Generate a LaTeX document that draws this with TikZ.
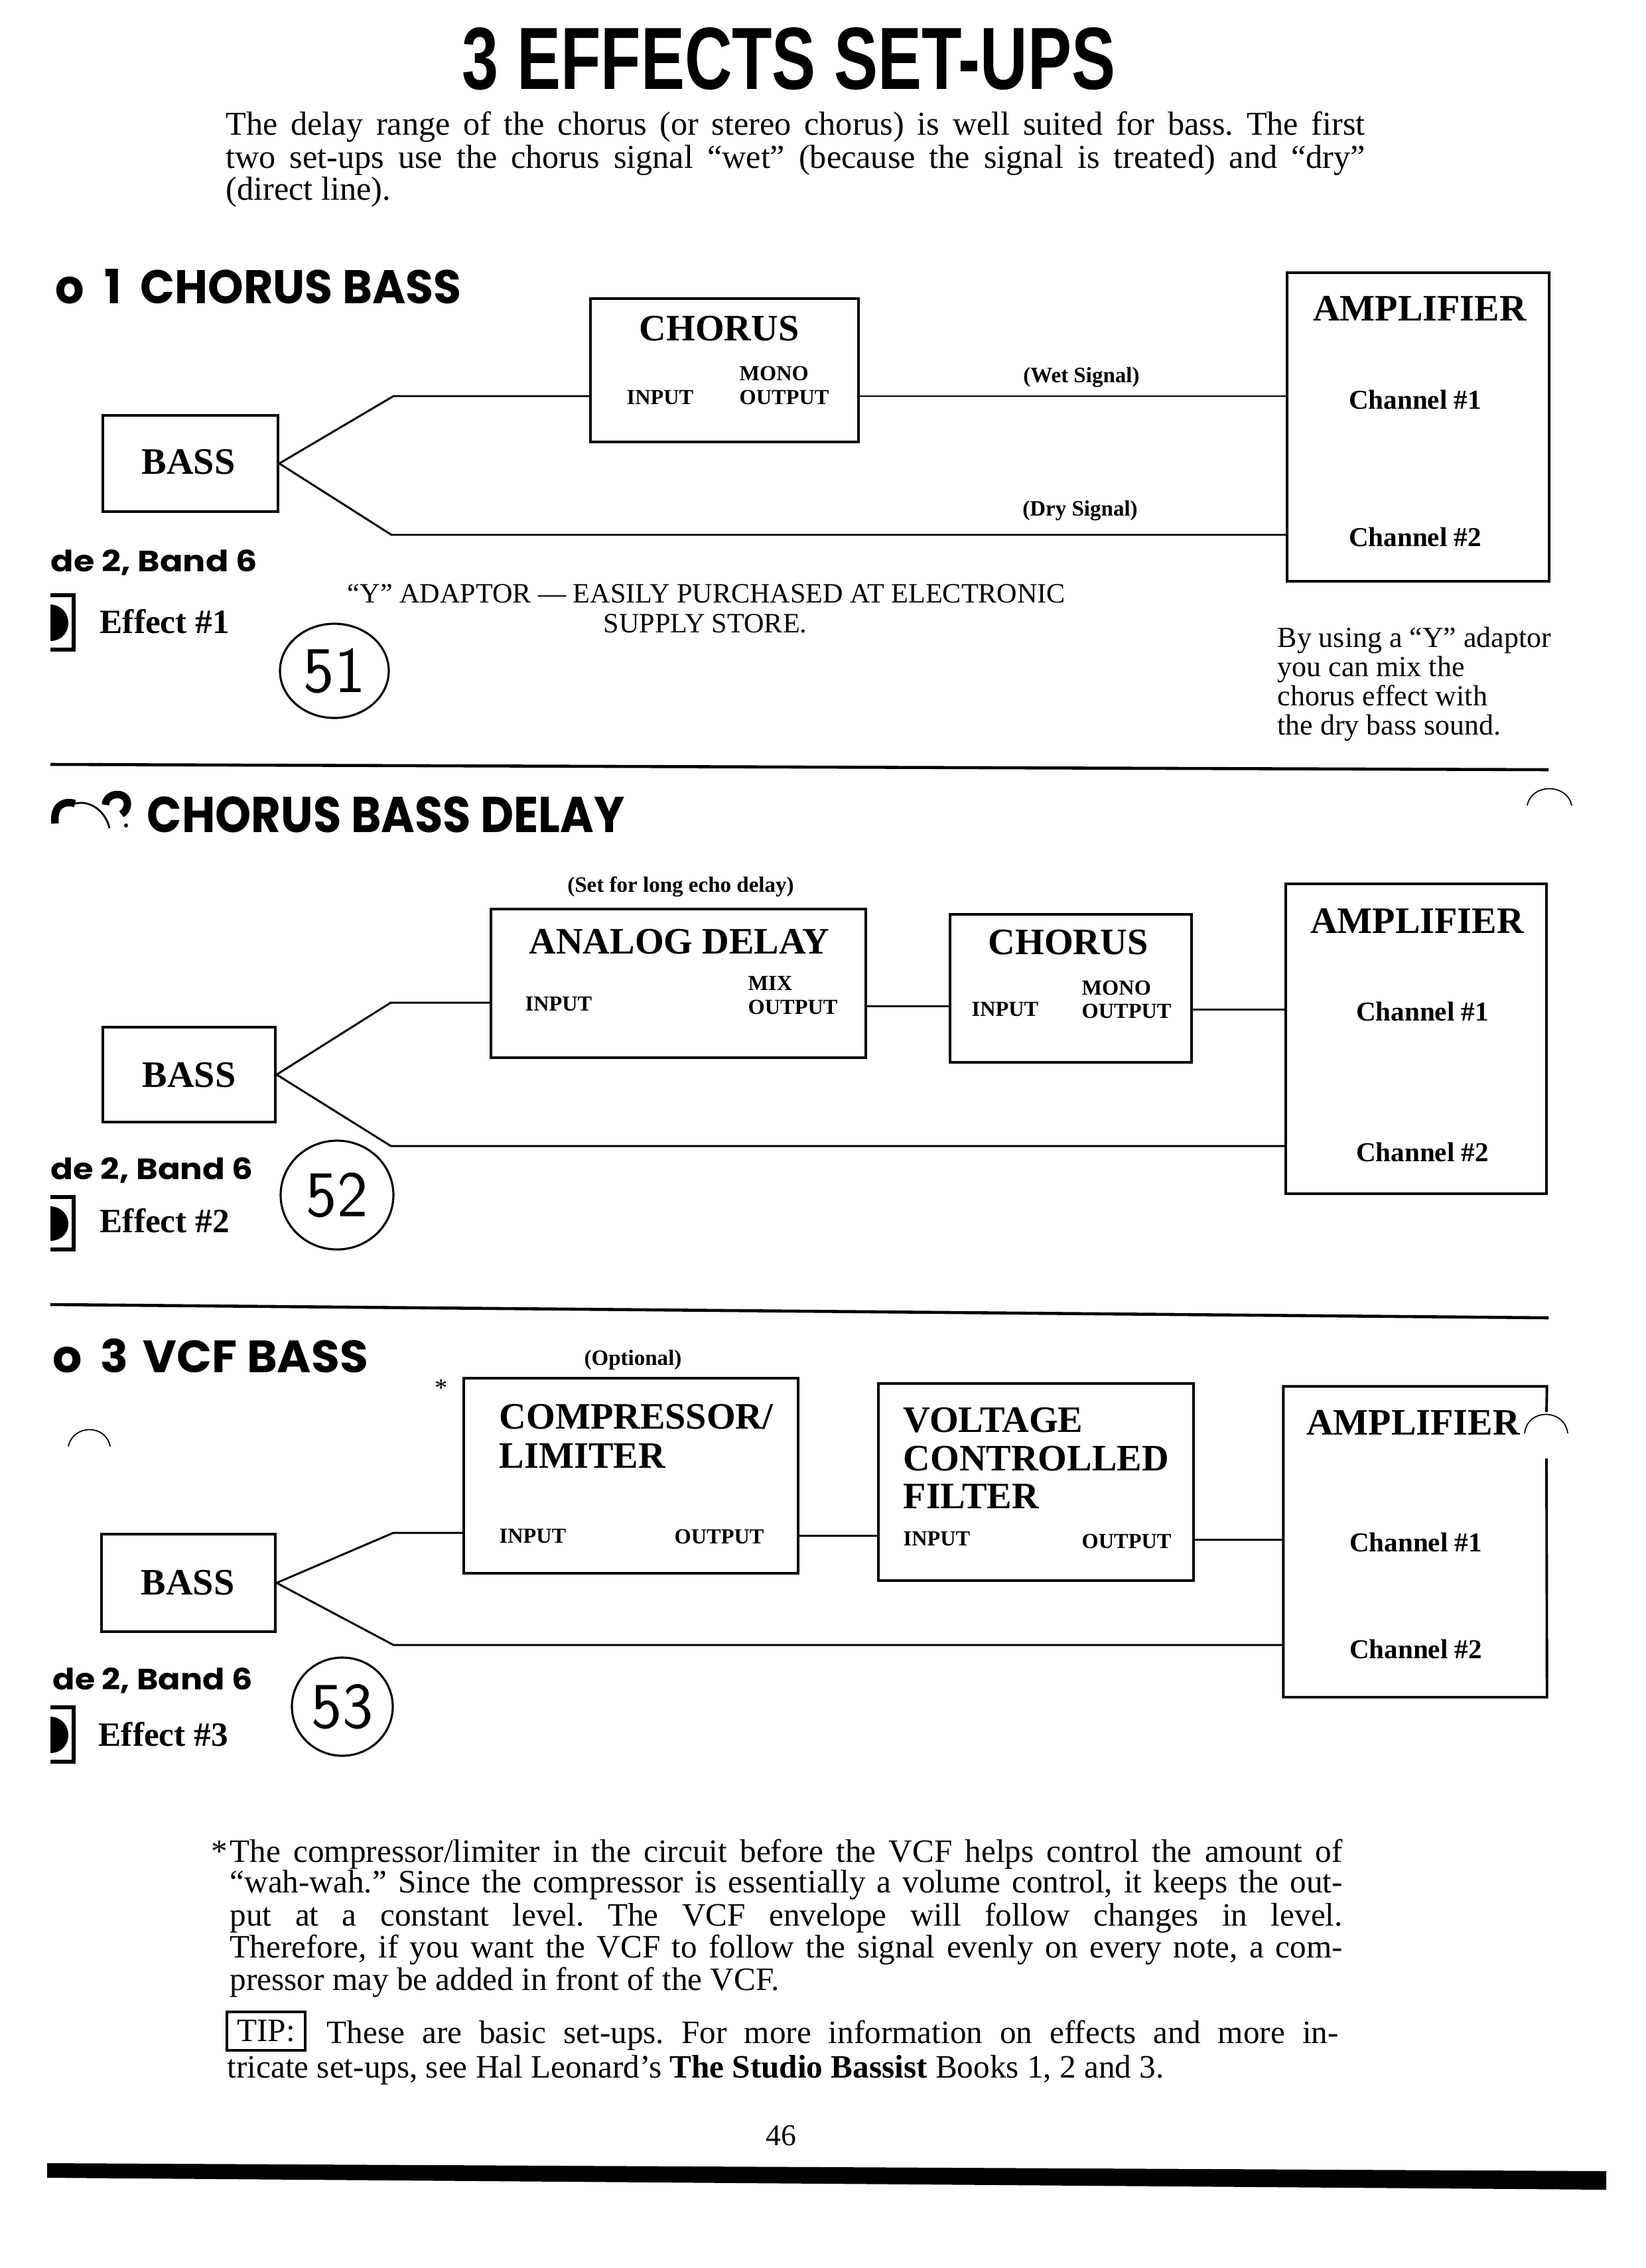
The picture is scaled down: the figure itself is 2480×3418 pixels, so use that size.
\documentclass[tikz,border=0pt]{standalone}
\usepackage{graphicx}
\usepackage{fontspec}
\setmainfont{Liberation Serif}
\newfontfamily\headfont{Poppins}
\newfontfamily\titlefont{Liberation Sans}
\usetikzlibrary{fit,shapes.geometric}
\tikzset{
  box/.style={draw, line width=1.1pt, inner sep=0pt},
  boxline/.style={line width=1.1pt},
  wire/.style={line width=0.85pt},
  btitle/.style={font=\fontsize{16}{19}\selectfont\bfseries, inner sep=0pt, anchor=base},
  btitlel/.style={font=\fontsize{16}{19}\selectfont\bfseries, inner sep=0pt, anchor=base west},
  port/.style={font=\fontsize{9.2}{11}\selectfont\bfseries, inner sep=0pt, anchor=base west},
  chan/.style={font=\fontsize{11.7}{14}\selectfont\bfseries, inner sep=0pt, anchor=base},
  sig/.style={font=\fontsize{9.4}{11}\selectfont\bfseries, inner sep=0pt},
  body/.style={font=\fontsize{14.3}{16}\selectfont, inner sep=0pt, anchor=base west},
  foot/.style={font=\fontsize{14}{16}\selectfont, inner sep=0pt, anchor=base west},
  note/.style={font=\fontsize{12.5}{15}\selectfont, inner sep=0pt, anchor=base west},
  caps/.style={font=\fontsize{12}{14}\selectfont, inner sep=0pt, anchor=base},
  effect/.style={font=\fontsize{14.6}{17}\selectfont\bfseries, inner sep=0pt, anchor=base west},
  head/.style={inner sep=0pt, anchor=base west},
  hand/.style={draw, ellipse, line width=0.9pt, inner sep=0pt, font=\sffamily\fontsize{28}{30}\selectfont},
  thinarc/.style={line width=0.5pt},
}
\newcommand\bracketicon[2]{%
  \fill (76,{#1+14}) .. controls (112,{#1+16}) and (112,{#2-14}) .. (76,{#2-13}) -- cycle;
  \draw[line width=1.7pt] (76,#1) -- (111,#1) -- (111,#2) -- (76,#2);}
\begin{document}
\frenchspacing
\begin{tikzpicture}[x=0.1mm, y=-0.1mm]
\useasboundingbox (0,0) rectangle (2480,3418);

% ---------- title and intro ----------
\node[head] (title) at (696,135) {\resizebox{98.4mm}{9.3mm}{\titlefont\bfseries 3 EFFECTS SET-UPS}};
\node[body] (intro1) at (340,204) {\makebox[171.7mm][s]{The delay range of the chorus (or stereo chorus) is well suited for bass. The first}};
\node[body] (intro2) at (340,254) {\makebox[171.7mm][s]{two set-ups use the chorus signal “wet” (because the signal is treated) and “dry”}};
\node[body] (intro3) at (340,302) {(direct line).};

% ---------- section 1 ----------
\node[head] (h1) at (83,458) {\resizebox{61.2mm}{5.2mm}{\headfont\bfseries o\hspace{0.45em}1\hspace{0.2em} CHORUS BASS}};
\node[box, fit={(890,450) (1294,666)}] (c1) {};
\node[box, fit={(1940,411) (2335,876)}] (a1) {};
\node[box, fit={(155,626) (419,771)}] (b1) {};
\node[btitle] (c1t) at (1084,514) {CHORUS};
\node[port] (c1m) at (1114,573) {MONO};
\node[port] (c1i) at (944,609) {INPUT};
\node[port] (c1o) at (1114,609) {OUTPUT};
\node[btitle] (a1t) at (2140,483) {AMPLIFIER};
\node[chan] (a1c1) at (2133,616) {Channel \#1};
\node[chan] (a1c2) at (2133,823) {Channel \#2};
\node[btitle] (b1t) at (284,714) {BASS};
\coordinate (u1) at (593,597);
\coordinate (l1) at (590,806);
\draw[wire] (b1.east) -- (u1) -- (u1 -| c1.west);
\draw[wire] (b1.east) -- (l1) -- (l1 -| a1.west);
\draw[wire] (u1 -| c1.east) -- (u1 -| a1.west);
\node[sig] (wet) at (1630,569) {(Wet Signal)};
\node[sig] (dry) at (1628,770) {(Dry Signal)};
\node[caps] (y1) at (1065,908) {“Y” ADAPTOR — EASILY PURCHASED AT ELECTRONIC};
\node[caps] (y2) at (1063,953) {SUPPLY STORE.};
\node[head] (s1) at (76,861) {\resizebox{31.1mm}{3.3mm}{\headfont\bfseries de 2, Band 6}};
\bracketicon{897}{979}
\node[effect] (e1) at (150,954) {Effect \#1};
\node[hand, minimum width=16.4mm, minimum height=14.2mm] (n51) at (504,1011) {51};
\node[note] (m1) at (1925,975) {By using a “Y” adaptor};
\node[note] (m2) at (1925,1019) {you can mix the};
\node[note] (m3) at (1925,1063) {chorus effect with};
\node[note] (m4) at (1925,1107) {the dry bass sound.};
\draw[line width=1.3pt] (76,1152) -- (2334,1160);

% ---------- section 2 ----------
\draw[line width=3.2pt] (83,1241) .. controls (80,1214) and (96,1206) .. (113,1211);
\draw[line width=0.8pt] (113,1211) .. controls (138,1205) and (160,1225) .. (165,1248);
\draw[line width=3.2pt] (159,1213) .. controls (160,1193) and (192,1192) .. (192,1211) .. controls (192,1219) and (188,1224) .. (183,1227);
\fill (190,1244) circle[radius=3];
\draw[thinarc] (2302,1214) .. controls (2308,1180) and (2362,1180) .. (2369,1214);
\node[head] (h2) at (221,1254) {\resizebox{72.0mm}{5.4mm}{\headfont\bfseries CHORUS BASS DELAY}};
\node[sig] (echo) at (1026,1337) {(Set for long echo delay)};
\node[box, fit={(740,1370) (1305,1594)}] (d2) {};
\node[box, fit={(1432,1378) (1796,1601)}] (c2) {};
\node[box, fit={(1938,1332) (2331,1799)}] (a2) {};
\node[box, fit={(155,1548) (415,1691)}] (b2) {};
\node[btitle] (d2t) at (1024,1437) {ANALOG DELAY};
\node[port] (d2m) at (1127,1492) {MIX};
\node[port] (d2o) at (1127,1528) {OUTPUT};
\node[port] (d2i) at (791,1523) {INPUT};
\node[btitle] (c2t) at (1610,1438) {CHORUS};
\node[port] (c2m) at (1630,1499) {MONO};
\node[port] (c2o) at (1630,1534) {OUTPUT};
\node[port] (c2i) at (1464,1531) {INPUT};
\node[btitle] (a2t) at (2136,1406) {AMPLIFIER};
\node[chan] (a2c1) at (2144,1538) {Channel \#1};
\node[chan] (a2c2) at (2144,1750) {Channel \#2};
\node[btitle] (b2t) at (285,1638) {BASS};
\coordinate (u2) at (589,1511);
\coordinate (l2) at (589,1727);
\coordinate (m2c) at (1370,1516);
\coordinate (n2c) at (1860,1521);
\draw[wire] (b2.east) -- (u2) -- (u2 -| d2.west);
\draw[wire] (b2.east) -- (l2) -- (l2 -| a2.west);
\draw[wire] (m2c -| d2.east) -- (m2c -| c2.west);
\draw[wire] (n2c -| c2.east) -- (n2c -| a2.west);
\node[head] (s2) at (76,1777) {\resizebox{30.5mm}{3.3mm}{\headfont\bfseries de 2, Band 6}};
\bracketicon{1804}{1883}
\node[effect] (e2) at (150,1857) {Effect \#2};
\node[hand, minimum width=17mm, minimum height=16.4mm] (n52) at (508,1801) {52};
\draw[line width=1.3pt] (76,1966) -- (2334,1986);

% ---------- section 3 ----------
\node[head] (h3) at (79,2068) {\resizebox{47.5mm}{5.1mm}{\headfont\bfseries o\hspace{0.4em}3\hspace{0.1em} VCF BASS}};
\node[sig] (opt) at (954,2050) {(Optional)};
\node[inner sep=0pt, font=\fontsize{11}{13}\selectfont] (star) at (665,2092) {*};
\draw[thinarc] (103,2180) .. controls (110,2146) and (160,2146) .. (166,2180);
\node[box, fit={(699,2077) (1203,2371)}] (p3) {};
\node[box, fit={(1324,2085) (1799,2382)}] (v3) {};
\node[inner sep=0pt, fit={(1935,2090) (2331,2557)}] (a3) {};
\draw[boxline] (2331,2198) -- (a3.south east) -- (a3.south west) -- (a3.north west) -- (a3.north east) -- (2331,2128);
\draw[thinarc] (2298,2160) .. controls (2302,2122) and (2358,2122) .. (2363,2160);
\node[box, fit={(153,2312) (415,2459)}] (b3) {};
\node[btitlel] (p3t1) at (752,2153) {COMPRESSOR/};
\node[btitlel] (p3t2) at (752,2212) {LIMITER};
\node[port] (p3i) at (752,2325) {INPUT};
\node[port] (p3o) at (1016,2326) {OUTPUT};
\node[btitlel] (v3t1) at (1361,2158) {VOLTAGE};
\node[btitlel] (v3t2) at (1361,2216) {CONTROLLED};
\node[btitlel] (v3t3) at (1361,2273) {FILTER};
\node[port] (v3i) at (1361,2329) {INPUT};
\node[port] (v3o) at (1630,2333) {OUTPUT};
\node[btitle] (a3t) at (2130,2162) {AMPLIFIER};
\node[chan] (a3c1) at (2134,2338) {Channel \#1};
\node[chan] (a3c2) at (2134,2499) {Channel \#2};
\node[btitle] (b3t) at (283,2403) {BASS};
\coordinate (u3) at (593,2310);
\coordinate (l3) at (593,2479);
\coordinate (m3c) at (1260,2314);
\coordinate (n3c) at (1860,2320);
\draw[wire] (b3.east) -- (u3) -- (u3 -| p3.west);
\draw[wire] (b3.east) -- (l3) -- (l3 -| a3.west);
\draw[wire] (m3c -| p3.east) -- (m3c -| v3.west);
\draw[wire] (n3c -| v3.east) -- (n3c -| a3.west);
\node[head] (s3) at (79,2546) {\resizebox{30.1mm}{3.3mm}{\headfont\bfseries de 2, Band 6}};
\bracketicon{2573}{2655}
\node[effect] (e3) at (148,2631) {Effect \#3};
\node[hand, minimum width=15.2mm, minimum height=14.8mm] (n53) at (516,2572) {53};

% ---------- footnote ----------
\node[foot] (fstar) at (318,2806) {*};
\node[foot] (f1) at (346,2806) {\makebox[167.7mm][s]{The compressor/limiter in the circuit before the VCF helps control the amount of}};
\node[foot] (f2) at (346,2852) {\makebox[167.7mm][s]{“wah-wah.” Since the compressor is essentially a volume control, it keeps the out-}};
\node[foot] (f3) at (346,2902) {\makebox[167.7mm][s]{put at a constant level. The VCF envelope will follow changes in level.}};
\node[foot] (f4) at (346,2950) {\makebox[167.7mm][s]{Therefore, if you want the VCF to follow the signal evenly on every note, a com-}};
\node[foot] (f5) at (346,2999) {pressor may be added in front of the VCF.};
\node[draw, line width=0.9pt, inner sep=0pt, minimum width=11.8mm, minimum height=5.8mm, font=\fontsize{14}{16}\selectfont] (tip) at (401,3061) {TIP:};
\node[foot] (t1) at (492,3079) {\makebox[152.5mm][s]{These are basic set-ups. For more information on effects and more in-}};
\node[foot] (t2) at (342,3131) {tricate set-ups, see Hal Leonard’s \textbf{The Studio Bassist} Books 1, 2 and 3.};
\node[inner sep=0pt, anchor=base, font=\fontsize{13}{16}\selectfont] (pg) at (1177,3233) {46};
\fill (71,3260) -- (2421,3272) -- (2421,3300) -- (71,3282) -- cycle;
\end{tikzpicture}
\end{document}
